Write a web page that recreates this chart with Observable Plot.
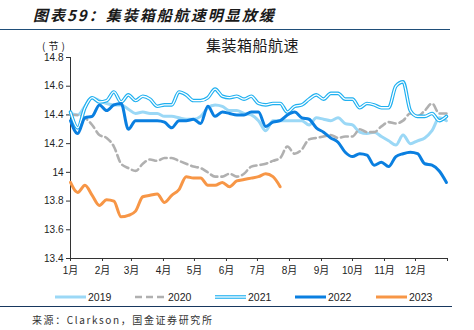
<!DOCTYPE html>
<html><head><meta charset="utf-8">
<script src="https://cdn.jsdelivr.net/npm/d3@7"></script>
<script src="https://cdn.jsdelivr.net/npm/@observablehq/plot@0.6"></script>
<style>
body{margin:0;background:#fff;}
#wrap{position:relative;width:474px;height:330px;overflow:hidden;font-family:"Liberation Sans","Noto Sans CJK SC",sans-serif;color:#222;}
#title{position:absolute;left:33px;top:4px;font-family:"Noto Sans CJK SC",sans-serif;font-weight:bold;font-style:italic;font-size:15px;letter-spacing:2px;color:#1a1a1a;white-space:nowrap;}
#topline{position:absolute;left:0;top:29px;width:450px;height:0;border-top:1.5px solid #1f4e79;}
#sub{position:absolute;left:206px;top:34px;font-family:"Noto Sans CJK SC",sans-serif;font-size:15px;letter-spacing:0.5px;color:#1a1a1a;white-space:nowrap;}
#unit{position:absolute;left:42px;top:38px;font-family:"Noto Sans CJK SC",sans-serif;font-size:10px;letter-spacing:3px;color:#222;white-space:pre;}
#chart{position:absolute;left:0;top:30px;}
#legend{position:absolute;left:0;top:289px;width:474px;height:16px;}
#botline{position:absolute;left:0;top:306px;width:452px;height:0;border-top:1.5px solid #17375e;}
#source{position:absolute;left:32px;top:312px;font-family:"Noto Sans CJK SC",sans-serif;font-size:10px;letter-spacing:1.6px;color:#333;white-space:nowrap;}
</style></head><body>
<div id="wrap">
<div id="title">图表59：集装箱船航速明显放缓</div>
<div id="topline"></div>
<div id="chart"></div>
<div id="sub">集装箱船航速</div>
<div id="unit">(节)</div>
<div id="legend"></div>
<div id="botline"></div>
<div id="source">来源：Clarkson，国金证券研究所</div>
</div>
<script>
const months = ["1月","2月","3月","4月","5月","6月","7月","8月","9月","10月","11月","12月"];
const monthStartDays = [0,31,59,90,120,151,181,212,243,273,304,334];
const yTicks = [13.4,13.6,13.8,14.0,14.2,14.4,14.6,14.8];
const years = ["2019","2020","2021","2022","2023"];

// weekly average speed (knots), week 1..52
const s2019 = [14.41,14.40,14.46,14.52,14.50,14.48,14.47,14.47,14.44,14.41,14.42,14.41,14.41,14.39,14.39,14.38,14.37,14.37,14.39,14.45,14.47,14.46,14.43,14.43,14.41,14.40,14.36,14.29,14.36,14.36,14.36,14.36,14.36,14.33,14.38,14.37,14.36,14.38,14.34,14.33,14.28,14.27,14.28,14.25,14.22,14.19,14.26,14.20,14.22,14.24,14.29,14.38,14.36];
const s2020 = [14.40,14.40,14.38,14.33,14.26,14.24,14.18,14.06,14.03,14.01,14.06,14.09,14.08,14.10,14.10,14.08,14.06,14.04,14.03,14.00,13.97,13.97,13.99,13.97,13.99,14.04,14.05,14.06,14.08,14.10,14.18,14.13,14.16,14.23,14.24,14.25,14.26,14.24,14.25,14.25,14.30,14.28,14.28,14.32,14.35,14.34,14.36,14.41,14.39,14.43,14.48,14.41,14.41];
const s2021 = [14.42,14.31,14.45,14.52,14.49,14.50,14.56,14.49,14.54,14.50,14.53,14.51,14.46,14.47,14.47,14.56,14.54,14.50,14.50,14.52,14.58,14.53,14.52,14.53,14.51,14.53,14.48,14.47,14.48,14.48,14.42,14.46,14.47,14.51,14.54,14.51,14.55,14.55,14.51,14.51,14.45,14.48,14.47,14.45,14.45,14.60,14.63,14.43,14.39,14.39,14.41,14.36,14.39];
const s2022 = [14.36,14.27,14.38,14.39,14.47,14.43,14.47,14.48,14.30,14.36,14.36,14.36,14.36,14.35,14.31,14.36,14.36,14.37,14.34,14.46,14.39,14.42,14.41,14.40,14.40,14.42,14.42,14.32,14.35,14.36,14.40,14.42,14.38,14.37,14.31,14.28,14.24,14.21,14.14,14.11,14.13,14.12,14.05,14.07,14.04,14.11,14.13,14.14,14.13,14.06,14.05,14.01,13.93];
const s2023 = [13.93,13.86,13.91,13.84,13.77,13.81,13.80,13.69,13.70,13.73,13.83,13.84,13.85,13.79,13.84,13.88,13.97,13.96,13.96,13.91,13.91,13.93,13.90,13.94,13.95,13.96,13.97,13.99,13.97,13.90];

const series = [s2019,s2020,s2021,s2022,s2023];
const rows = [];
series.forEach((vals,i)=>vals.forEach((v,w)=>rows.push({year:years[i],day:w*7,v})));
const by = y => rows.filter(r=>r.year===y);
const monthLabel = new Map(monthStartDays.map((d,i)=>[d,months[i]]));

const C = {"2019":"#9bd8f6","2020":"#b0b0b0","2021":"#1fb0f0","2022":"#0a7fe0","2023":"#f79646"};
const curve = "monotone-x";

const plot = Plot.plot({
  width:474, height:255,
  marginLeft:70, marginRight:27, marginTop:27, marginBottom:27,
  style:{fontFamily:'"Liberation Sans","Noto Sans CJK SC",sans-serif',fontSize:"10px",color:"#222",background:"transparent",overflow:"visible"},
  x:{domain:[0,365]},
  y:{domain:[13.4,14.8]},
  marks:[
    Plot.axisY({ticks:yTicks, tickFormat:d=>String(+d.toFixed(1)), tickSize:4, tickPadding:3, label:null, stroke:"#333"}),
    Plot.axisX({ticks:[...monthStartDays,365], tickFormat:d=>monthLabel.get(d) ?? "", tickSize:3, tickPadding:5, label:null, stroke:"#333"}),
    Plot.ruleX([0],{y1:13.4,y2:14.8,stroke:"#333"}),
    Plot.ruleY([13.4],{x1:0,x2:365,stroke:"#333"}),
    Plot.line(by("2019"),{x:"day",y:"v",stroke:C["2019"],strokeWidth:3,curve}),
    Plot.line(by("2020"),{x:"day",y:"v",stroke:C["2020"],strokeWidth:2.6,strokeDasharray:"7,4",curve}),
    Plot.line(by("2021"),{x:"day",y:"v",stroke:C["2021"],strokeWidth:3.6,curve}),
    Plot.line(by("2021"),{x:"day",y:"v",stroke:"#ffffff",strokeWidth:1.3,curve}),
    Plot.line(by("2022"),{x:"day",y:"v",stroke:C["2022"],strokeWidth:3,curve}),
    Plot.line(by("2023"),{x:"day",y:"v",stroke:C["2023"],strokeWidth:3,curve})
  ]
});
document.getElementById("chart").appendChild(plot);

// legend
const lg = [
  {y:"2019",sx:55},{y:"2020",sx:135},{y:"2021",sx:215},{y:"2022",sx:295},{y:"2023",sx:376}
];
const ns="http://www.w3.org/2000/svg";
const svg=document.createElementNS(ns,"svg");
svg.setAttribute("width",474);svg.setAttribute("height",16);
lg.forEach(o=>{
  const add=(attrs)=>{const l=document.createElementNS(ns,"line");for(const k in attrs)l.setAttribute(k,attrs[k]);svg.appendChild(l);};
  const base={x1:o.sx,x2:o.sx+31,y1:8,y2:8};
  if(o.y==="2020") add({...base,stroke:C["2020"],"stroke-width":2.6,"stroke-dasharray":"7,4"});
  else if(o.y==="2021"){add({...base,stroke:C["2021"],"stroke-width":3.6});add({...base,stroke:"#fff","stroke-width":1.3});}
  else add({...base,stroke:C[o.y],"stroke-width":3});
  const t=document.createElementNS(ns,"text");
  t.setAttribute("x",o.sx+33);t.setAttribute("y",12);
  t.setAttribute("font-size","10.5");t.setAttribute("font-family","Liberation Sans, sans-serif");t.setAttribute("fill","#222");
  t.textContent=o.y;svg.appendChild(t);
});
document.getElementById("legend").appendChild(svg);
</script>
</body></html>
